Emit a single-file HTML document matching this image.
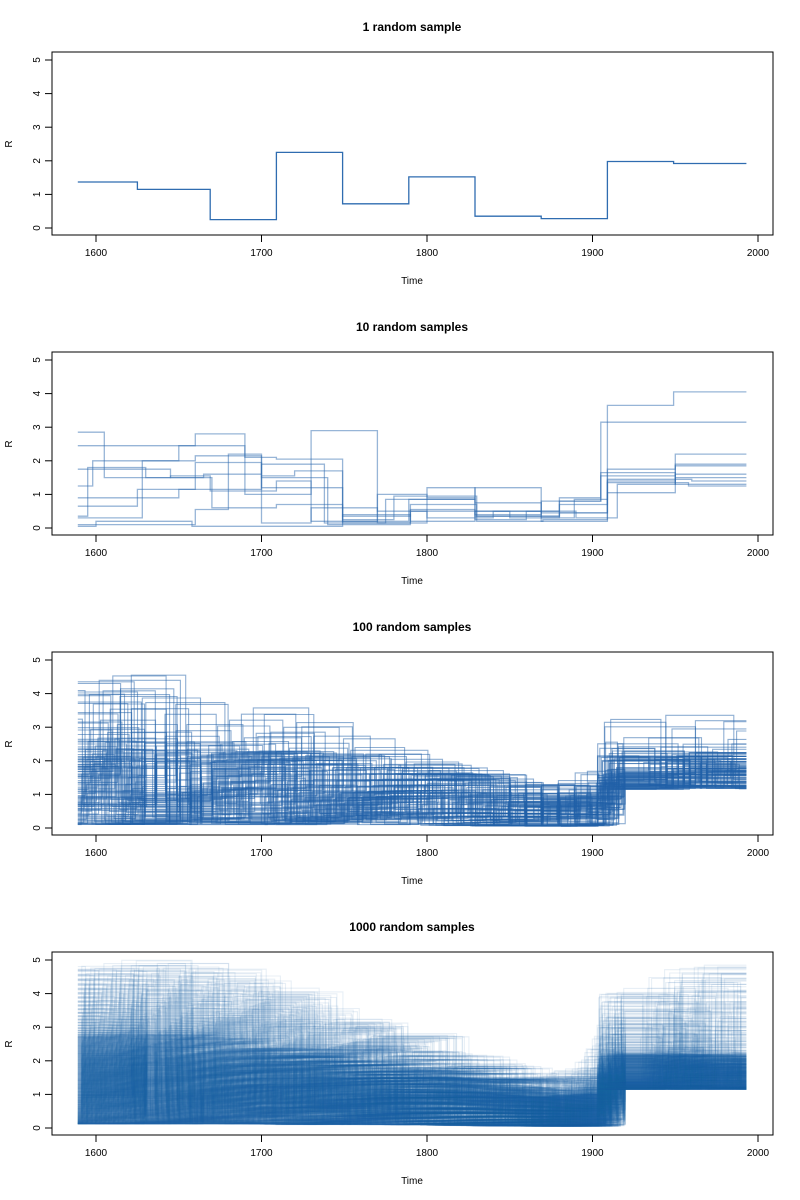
<!DOCTYPE html>
<html><head><meta charset="utf-8"><style>
body{margin:0;background:#fff}
svg{display:block;font-family:"Liberation Sans",Arial,sans-serif}
</style></head><body>
<svg id="c" width="800" height="1200"></svg>
<script>
const titles=["1 random sample","10 random samples","100 random samples","1000 random samples"];
const xTicks=[1600,1700,1800,1900,2000];
const yTicks=[0,1,2,3,4,5];
const s1Breaks=[1589,1625,1669,1709,1749,1789,1829,1869,1909,1949];
const s1Values=[1.37,1.15,0.25,2.25,0.72,1.52,0.35,0.28,1.98,1.92];
const endYear=1993;
const p2Series=[
[[1589,2.85],[1605,1.5],[1645,1.55],[1669,1.1],[1709,1.4],[1730,0.2],[1789,0.85],[1829,0.75],[1869,0.45],[1909,3.65],[1949,4.05]],
[[1589,2.45],[1625,2.45],[1660,2.8],[1690,2.1],[1709,2.05],[1749,0.2],[1770,1.0],[1800,0.9],[1829,0.4],[1869,0.8],[1905,3.15]],
[[1589,1.75],[1645,1.5],[1665,1.6],[1700,1.9],[1738,0.15],[1775,0.85],[1829,1.2],[1869,0.3],[1889,0.85],[1909,1.75],[1950,2.2]],
[[1589,1.25],[1598,2.0],[1625,2.0],[1650,2.45],[1690,1.0],[1730,2.9],[1770,0.15],[1800,1.2],[1829,0.35],[1880,0.9],[1905,1.55],[1950,1.9]],
[[1589,0.9],[1650,1.15],[1700,1.55],[1720,1.7],[1749,0.15],[1790,0.55],[1829,0.25],[1860,0.5],[1880,0.7],[1909,1.05],[1950,1.85]],
[[1589,0.65],[1625,1.15],[1660,1.95],[1700,1.2],[1749,0.25],[1780,0.95],[1830,0.35],[1880,0.45],[1909,1.45],[1960,1.4]],
[[1589,0.35],[1595,1.8],[1630,1.5],[1670,0.6],[1709,0.7],[1749,0.35],[1790,0.7],[1830,0.2],[1870,0.25],[1909,1.4],[1950,1.6]],
[[1589,0.3],[1628,2.0],[1660,2.15],[1700,0.15],[1730,0.6],[1770,0.5],[1800,0.3],[1840,0.5],[1890,0.3],[1915,1.3],[1950,1.5]],
[[1589,0.05],[1600,0.2],[1658,0.05],[1700,0.05],[1749,0.4],[1790,0.2],[1829,0.5],[1869,0.2],[1909,1.35],[1958,1.25]],
[[1589,0.1],[1660,0.55],[1680,2.2],[1700,1.5],[1740,0.1],[1790,0.5],[1850,0.3],[1880,0.8],[1905,1.65],[1950,1.3]]
];
// quantile bands: low, 85th percentile, max
const bandYears=[1590,1620,1650,1680,1710,1740,1770,1800,1830,1860,1890,1905,1915,1950,1993];
const p3Low =[0.1,0.1,0.1,0.1,0.1,0.1,0.1,0.08,0.06,0.05,0.05,0.1,1.15,1.15,1.15];
const p3P85 =[2.6,2.7,2.6,2.4,2.1,1.9,1.7,1.5,1.2,0.9,1.0,1.5,2.2,2.2,2.1];
const p3High=[4.4,4.7,4.6,4.0,3.5,3.0,2.6,1.8,1.5,1.3,1.5,2.5,3.3,3.6,3.6];
const p4Low =[0.12,0.12,0.12,0.12,0.1,0.1,0.1,0.08,0.06,0.05,0.05,0.1,1.15,1.15,1.15];
const p4P85 =[2.7,2.8,2.7,2.5,2.2,2.0,1.8,1.5,1.2,0.9,1.0,1.5,2.2,2.2,2.1];
const p4High=[4.8,5.0,4.9,4.5,3.9,3.4,2.9,2.2,1.8,1.5,1.8,3.0,4.0,4.8,4.9];
const sampleCounts=[100,1000];

const NS="http://www.w3.org/2000/svg";
const svg=document.getElementById('c');
function el(t,a,p){const e=document.createElementNS(NS,t);for(const k in a)e.setAttribute(k,a[k]);(p||svg).appendChild(e);return e;}
const xs=y=>96+(y-1600)*1.655;
const ys=(v,o)=>o+228-v*33.6;

function stepPath(pts,o){
  let d='M'+xs(pts[0][0]).toFixed(1)+','+ys(pts[0][1],o).toFixed(1);
  for(let i=1;i<pts.length;i++){d+='H'+xs(pts[i][0]).toFixed(1)+'V'+ys(pts[i][1],o).toFixed(1);}
  d+='H'+xs(endYear).toFixed(1);return d;
}
function interp(arr,yr){
  if(yr<=bandYears[0])return arr[0];
  for(let i=1;i<bandYears.length;i++){if(yr<=bandYears[i]){const t=(yr-bandYears[i-1])/(bandYears[i]-bandYears[i-1]);return arr[i-1]+(arr[i]-arr[i-1])*t;}}
  return arr[arr.length-1];
}
function quant(lo,mid,hi,yr,q){
  const l=interp(lo,yr),m=interp(mid,yr),h=interp(hi,yr);
  if(q<0.85)return l+(m-l)*Math.pow(q/0.85,1.4);
  return m+(h-m)*Math.pow((q-0.85)/0.15,1.5);
}

for(let p=0;p<4;p++){
  const o=p*300;
  const g=el('g',{});
  
  
  const t=el('text',{x:412,y:o+31,'text-anchor':'middle','font-size':12,'font-weight':'bold',fill:'#000'},g);
  t.textContent=titles[p];
  
  
  const series=el('g',{fill:'none'},g);
  
  
  if(p===0){
    const pts=s1Breaks.map((b,i)=>[b,s1Values[i]]);
    const l=el('path',{d:stepPath(pts,o),stroke:'#2f6cb0','stroke-width':1.3},series);
    
    
  }else if(p===1){
    p2Series.forEach(s=>{
      const l=el('path',{d:stepPath(s,o),stroke:'#2f6cb0','stroke-opacity':0.5,'stroke-width':1.3},series);
      
      
    });
  }else{
    const n=sampleCounts[p-2];
    const lo=p===2?p3Low:p4Low, mid=p===2?p3P85:p4P85, hi=p===2?p3High:p4High;
    for(let k=0;k<n;k++){
      const jump=1903+((k*0.3710)%1)*17;
      const brk=[1589];
      let yr=1591+((k*0.7548776662)%1)*40, seg=1;
      while(yr<jump-6){brk.push(yr);yr+=22+((k*0.6180339887+seg*0.2923)%1)*30;seg++;}
      brk.push(jump);
      yr=jump+25+((k*0.4142)%1)*35;
      while(yr<endYear-3){brk.push(yr);yr+=30+((k*0.5772+seg*0.31)%1)*40;seg++;}
      const pts=brk.map((b,i)=>{
        const q=((k*0.6180339887+i*0.3819660113+(k%7)*0.113)%1);
        const at=b>=jump?Math.max(b+3,1916):b+3;
        return [b,quant(lo,mid,hi,at,q)];
      });
      const l=el('path',{d:stepPath(pts,o),stroke:'#1f5fa8','stroke-opacity':p===2?0.5:0.1,'stroke-width':1.1},series);
      
      
    }
  }
  const box=el('rect',{x:52,y:o+52,width:721,height:183,fill:'none',stroke:'#000','stroke-width':1},g);
  
  
  const xa=el('g',{},g);
  
  
  el('line',{x1:xs(1600),x2:xs(2000),y1:o+235,y2:o+235,stroke:'#000'},xa);
  xTicks.forEach(v=>{
    el('line',{x1:xs(v),x2:xs(v),y1:o+235,y2:o+242,stroke:'#000'},xa);
    const tl=el('text',{x:xs(v),y:o+256,'text-anchor':'middle','font-size':10},xa);
    tl.textContent=v;
    
    
  });
  const xt=el('text',{x:412,y:o+284,'text-anchor':'middle','font-size':10},g);
  xt.textContent='Time';
  
  
  const ya=el('g',{},g);
  
  
  el('line',{x1:52,x2:52,y1:ys(0,o),y2:ys(5,o),stroke:'#000'},ya);
  yTicks.forEach(v=>{
    el('line',{x1:45,x2:52,y1:ys(v,o),y2:ys(v,o),stroke:'#000'},ya);
    const tl=el('text',{x:40,y:ys(v,o),'text-anchor':'middle','font-size':10,transform:'rotate(-90 40 '+ys(v,o)+')'},ya);
    tl.textContent=v;
    
    
  });
  const yt=el('text',{x:12,y:o+144,'text-anchor':'middle','font-size':10,transform:'rotate(-90 12 '+(o+144)+')'},g);
  yt.textContent='R';
  
  
}
</script>
</body></html>
